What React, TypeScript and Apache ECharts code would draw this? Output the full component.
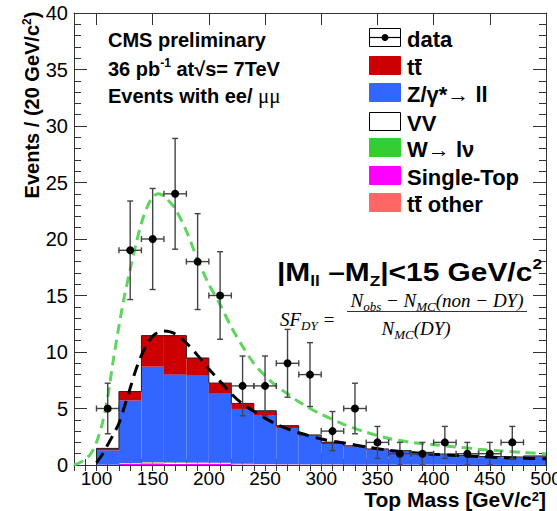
import React, { useEffect, useRef } from 'react';
import * as echarts from 'echarts';

const FONT = "'Liberation Sans', Arial, Helvetica, sans-serif";
const SERIF = "'Liberation Serif', 'Times New Roman', serif";

// histogram bins (GeV/c^2)
const binEdges = [100, 120, 140, 160, 180, 200, 220, 240, 260, 280, 300, 320, 340, 360, 380, 400, 420, 440, 460, 480, 500];
const binHalfWidth = 10;

// stacked MC contributions (events per bin)
const singleTop = [0.02, 0.12, 0.15, 0.1, 0.12, 0.12, 0.05, 0.04, 0.03, 0.02, 0.02, 0.01, 0.01, 0.01, 0.01, 0.01, 0, 0, 0, 0];
const vv = [0.01, 0.04, 0.05, 0.08, 0.05, 0.05, 0.04, 0.04, 0.03, 0.03, 0.03, 0.02, 0.02, 0.02, 0.02, 0.02, 0.01, 0.01, 0.01, 0.01];
const wjets = [0, 0, 0.03, 0.03, 0, 0, 0, 0, 0, 0, 0, 0, 0, 0, 0, 0, 0, 0, 0, 0];
const ttOther = [0, 0.02, 0.03, 0.03, 0.05, 0.02, 0.02, 0.01, 0.01, 0.01, 0.01, 0, 0, 0, 0, 0, 0, 0, 0, 0];
const dy = [1.27, 5.52, 8.44, 7.76, 7.68, 6.18, 4.85, 4.33, 3.2, 2.54, 1.8, 1.62, 1.35, 1.21, 1.07, 0.92, 0.82, 0.72, 0.67, 0.77];
const ttbar = [0.17, 0.8, 2.75, 3.45, 1.57, 0.88, 0.49, 0.38, 0.21, 0.06, 0.16, 0.05, 0.04, 0.03, 0.02, 0.02, 0.02, 0.02, 0.02, 0.02];

// data points
const dataMass = [110, 130, 150, 170, 190, 210, 230, 250, 270, 290, 310, 330, 350, 370, 390, 410, 430, 450, 470, 490];
const dataEvents = [5, 19, 20, 24, 18, 15, 7, 7, 9, 8, 3, 5, 2, 1, 1, 2, 1, 1, 2, 0];

// green dashed curve
const greenMass = [80, 85, 90, 95, 100, 105, 110, 115, 120, 125, 130, 135, 140, 145, 150, 155, 160, 165, 170, 180, 190, 200, 210, 220, 230, 240, 250, 260, 270, 280, 290, 300, 320, 340, 360, 380, 400, 420, 440, 460, 480, 500];
const greenFit = [0, 0.2, 0.5, 1.0, 2.0, 3.6, 6.0, 9.3, 12.3, 15.0, 17.3, 19.5, 21.4, 22.8, 23.7, 24.0, 23.8, 23.3, 22.7, 20.7, 18.2, 16.0, 14.2, 12.2, 10.5, 9.0, 7.9, 7.0, 6.3, 5.6, 5.0, 4.5, 3.6, 2.9, 2.35, 2.0, 1.8, 1.6, 1.4, 1.25, 1.1, 1.0];

// black dashed curve
const blackMass = [100, 105, 110, 115, 120, 125, 130, 135, 140, 145, 150, 155, 160, 165, 170, 180, 190, 200, 210, 220, 230, 240, 250, 260, 270, 280, 300, 320, 340, 360, 380, 400, 420, 440, 460, 480, 500];
const blackFit = [0.2, 0.9, 1.8, 2.7, 3.7, 5.2, 6.8, 8.4, 9.7, 10.7, 11.4, 11.75, 11.85, 11.8, 11.6, 10.8, 9.7, 8.5, 7.4, 6.3, 5.4, 4.75, 4.15, 3.6, 3.2, 2.85, 2.3, 1.95, 1.6, 1.3, 1.1, 0.95, 0.85, 0.75, 0.65, 0.6, 0.55];

const xTicks = [100, 150, 200, 250, 300, 350, 400, 450, 500];

const layers = [
  { name: 'Single-Top', values: singleTop, color: '#ff00ff' },
  { name: 'VV', values: vv, color: '#ffffff' },
  { name: 'W', values: wjets, color: '#33cc33' },
  { name: 'tt other', values: ttOther, color: '#ff6666' },
  { name: 'DY', values: dy, color: '#3366ff' },
  { name: 'ttbar', values: ttbar, color: '#cc0000' },
];

const AX = '#333';

export default function App() {
  const ref = useRef<HTMLDivElement>(null);
  useEffect(() => {
    const chart = echarts.init(ref.current!, null, { renderer: 'svg' });

    const cum = new Array(binEdges.length - 1).fill(0);
    const stackSeries = layers.map((layer) => {
      const data = layer.values.map((v, i) => {
        const base = cum[i];
        cum[i] += v;
        return [binEdges[i], binEdges[i + 1], base, cum[i]];
      });
      return {
        type: 'custom',
        name: layer.name,
        xAxisIndex: 0,
        yAxisIndex: 0,
        silent: true,
        z: 2,
        encode: { x: [0, 1], y: [2, 3] },
        data,
        renderItem: (params: any, api: any) => {
          const p1 = api.coord([api.value(0), api.value(3)]);
          const p2 = api.coord([api.value(1), api.value(2)]);
          return {
            type: 'rect',
            shape: { x: p1[0], y: p1[1], width: p2[0] - p1[0], height: p2[1] - p1[1] },
            style: { fill: layer.color },
          };
        },
      };
    });

    const outline: number[][] = [[binEdges[0], 0]];
    cum.forEach((t, i) => {
      outline.push([binEdges[i], t]);
      outline.push([binEdges[i + 1], t]);
    });
    outline.push([binEdges[binEdges.length - 1], 0]);

    const lineStyle = { color: AX, width: 1 };
    const xBase = { type: 'value', min: 80, max: 500, splitLine: { show: false } };
    const yBase = { type: 'value', min: 0, max: 40, interval: 5, splitLine: { show: false } };

    const option: any = {
      animation: false,
      grid: { left: 74, right: 11, top: 13, bottom: 46, containLabel: false, outerBoundsMode: 'none' },
      xAxis: [
        {
          ...xBase,
          position: 'bottom',
          axisLine: { show: true, onZero: false, lineStyle },
          axisTick: { show: true, inside: true, length: 12, customValues: xTicks, lineStyle },
          axisLabel: { show: true, customValues: xTicks, fontSize: 19, color: '#000', fontFamily: FONT, margin: 5, lineHeight: 16 },
        },
        {
          ...xBase,
          position: 'bottom',
          interval: 10,
          axisLine: { show: false },
          axisTick: { show: true, inside: true, length: 6, lineStyle },
          axisLabel: { show: false },
        },
        {
          ...xBase,
          position: 'top',
          axisLine: { show: true, onZero: false, lineStyle },
          axisTick: { show: true, inside: true, length: 12, customValues: xTicks, lineStyle },
          axisLabel: { show: false },
        },
        {
          ...xBase,
          position: 'top',
          interval: 10,
          axisLine: { show: false },
          axisTick: { show: true, inside: true, length: 6, lineStyle },
          axisLabel: { show: false },
        },
      ],
      yAxis: [
        {
          ...yBase,
          position: 'left',
          axisLine: { show: true, onZero: false, lineStyle },
          axisTick: { show: true, inside: true, length: 13, lineStyle },
          minorTick: { show: true, splitNumber: 5, length: 7, lineStyle },
          axisLabel: { fontSize: 20, color: '#000', fontFamily: FONT, margin: 6 },
        },
        {
          ...yBase,
          position: 'right',
          axisLine: { show: true, onZero: false, lineStyle },
          axisTick: { show: true, inside: true, length: 13, lineStyle },
          minorTick: { show: true, splitNumber: 5, length: 7, lineStyle },
          axisLabel: { show: false },
        },
      ],
      series: [
        ...stackSeries,
        {
          type: 'line',
          name: 'outline',
          data: outline,
          xAxisIndex: 0,
          yAxisIndex: 0,
          showSymbol: false,
          silent: true,
          z: 3,
          lineStyle: { color: '#222', width: 1 },
        },
        {
          type: 'line',
          name: 'green',
          data: greenMass.map((m, i) => [m, greenFit[i]]),
          smooth: 0.3,
          showSymbol: false,
          silent: true,
          z: 4,
          lineStyle: { color: '#5fd45f', width: 3, type: [10, 6] },
        },
        {
          type: 'line',
          name: 'black',
          data: blackMass.map((m, i) => [m, blackFit[i]]),
          smooth: 0.3,
          showSymbol: false,
          silent: true,
          z: 4,
          lineStyle: { color: '#000', width: 3, type: [12, 7] },
        },
        {
          type: 'custom',
          name: 'data',
          z: 5,
          silent: true,
          encode: { x: 0, y: 1 },
          data: dataMass.map((m, i) => [m, dataEvents[i]]),
          renderItem: (params: any, api: any) => {
            const x = api.value(0);
            const y = api.value(1);
            if (!(y > 0)) return null;
            const e = Math.sqrt(y);
            const c = api.coord([x, y]);
            const t = api.coord([x, y + e]);
            const b = api.coord([x, Math.max(0, y - e)]);
            const l = api.coord([x - binHalfWidth, y]);
            const r = api.coord([x + binHalfWidth, y]);
            const st = { stroke: '#444', lineWidth: 1.4 };
            const cap = 3;
            return {
              type: 'group',
              children: [
                { type: 'line', shape: { x1: c[0], y1: t[1], x2: c[0], y2: b[1] }, style: st },
                { type: 'line', shape: { x1: l[0], y1: c[1], x2: r[0], y2: c[1] }, style: st },
                { type: 'line', shape: { x1: c[0] - cap, y1: t[1], x2: c[0] + cap, y2: t[1] }, style: st },
                { type: 'line', shape: { x1: c[0] - cap, y1: b[1], x2: c[0] + cap, y2: b[1] }, style: st },
                { type: 'line', shape: { x1: l[0], y1: c[1] - cap, x2: l[0], y2: c[1] + cap }, style: st },
                { type: 'line', shape: { x1: r[0], y1: c[1] - cap, x2: r[0], y2: c[1] + cap }, style: st },
                { type: 'circle', shape: { cx: c[0], cy: c[1], r: 4 }, style: { fill: '#000' } },
              ],
            };
          },
        },
      ],
      graphic: [] as any[],
    };

    const g = option.graphic;
    const txt = (x: number, y: number, text: string, font: string, extra: any = {}, el: any = {}) => ({
      type: 'text',
      x,
      y,
      z: 100,
      ...el,
      style: {
        text,
        font,
        fill: '#000',
        align: 'left',
        verticalAlign: 'middle',
        textAlign: 'left',
        textVerticalAlign: 'middle',
        ...extra,
      },
    });

    // axis titles
    g.push(txt(32, 105, 'Events / (20 GeV/c{sup|2})', `bold 20px ${FONT}`, {
      align: 'center', textAlign: 'center', lineHeight: 22,
      rich: { sup: { fontSize: 12, fontWeight: 'bold', fontFamily: FONT, verticalAlign: 'top', lineHeight: 12 } },
    }, { rotation: Math.PI / 2 }));
    g.push(txt(546, 499, 'Top Mass [GeV/c{sup|2}]', `bold 21px ${FONT}`, {
      align: 'right', textAlign: 'right', lineHeight: 18,
      rich: { sup: { fontSize: 13, fontWeight: 'bold', fontFamily: FONT, verticalAlign: 'top', lineHeight: 10 } },
    }));

    // top-left labels
    g.push(txt(108, 40, 'CMS preliminary', `bold 20px ${FONT}`));
    g.push(txt(108, 69, '36 pb{sup|-1} at√s= 7TeV', `bold 20px ${FONT}`, {
      lineHeight: 24,
      rich: { sup: { fontSize: 12, fontWeight: 'bold', fontFamily: FONT, verticalAlign: 'top', lineHeight: 14 } },
    }));
    g.push(txt(108, 96, 'Events with ee/ {mu|μμ}', `bold 20px ${FONT}`, {
      rich: { mu: { fontSize: 21, fontWeight: 'normal', fontFamily: SERIF } },
    }));

    // legend
    const legendBoxes = [
      { y: 56, fill: '#cc0000', label: 'tt', bar: true },
      { y: 83, fill: '#3366ff', label: 'Z/γ*→ ll' },
      { y: 112, fill: '#ffffff', label: 'VV', stroke: true },
      { y: 138, fill: '#33cc33', label: 'W→ lν' },
      { y: 166, fill: '#ff00ff', label: 'Single-Top' },
      { y: 193, fill: '#ff6666', label: 'tt other', bar: true },
    ];
    g.push({ type: 'rect', z: 100, shape: { x: 369.5, y: 28.5, width: 31, height: 18 }, style: { fill: '#fff', stroke: '#000', lineWidth: 1 } });
    g.push({ type: 'line', z: 101, shape: { x1: 369.5, y1: 37.5, x2: 400.5, y2: 37.5 }, style: { stroke: '#000', lineWidth: 1.2 } });
    g.push({ type: 'circle', z: 101, shape: { cx: 385, cy: 37.5, r: 3.5 }, style: { fill: '#000' } });
    g.push(txt(407, 39, 'data', `bold 22px ${FONT}`));
    legendBoxes.forEach((b: any) => {
      g.push({
        type: 'rect', z: 100,
        shape: { x: 369.5, y: b.y + 0.5, width: 31, height: 18 },
        style: { fill: b.fill, stroke: b.stroke ? '#000' : b.fill, lineWidth: 1 },
      });
      g.push(txt(407, b.y + 11, b.label, `bold 22px ${FONT}`));
      if (b.bar) {
        g.push({ type: 'line', z: 101, shape: { x1: 415, y1: b.y + 4, x2: 422, y2: b.y + 4 }, style: { stroke: '#000', lineWidth: 2 } });
      }
    });

    // cut annotation
    g.push(txt(277, 272, '{b||M}{s|ll}{b| –M}{s|Z}{b||<15 GeV/c}{p|2}', `bold 26px ${FONT}`, {
      lineHeight: 32,
      rich: {
        b: { fontSize: 26, fontWeight: 'bold', fontFamily: FONT, lineHeight: 32 },
        s: { fontSize: 15, fontWeight: 'bold', fontFamily: FONT, verticalAlign: 'bottom', lineHeight: 14 },
        p: { fontSize: 15, fontWeight: 'bold', fontFamily: FONT, verticalAlign: 'top', lineHeight: 16 },
      },
    }, { scaleX: 1.15 }));

    // SF formula
    const serifRich = {
      m: { fontSize: 19, fontStyle: 'italic', fontFamily: SERIF, lineHeight: 26 },
      s: { fontSize: 13, fontStyle: 'italic', fontFamily: SERIF, verticalAlign: 'bottom', lineHeight: 12 },
    };
    g.push(txt(280, 319, '{m|SF}{s|DY}{m| =}', `italic 19px ${SERIF}`, { lineHeight: 26, rich: serifRich }));
    g.push(txt(437, 300, '{m|N}{s|obs}{m| − N}{s|MC}{m|(non − DY)}', `italic 19px ${SERIF}`, {
      align: 'center', textAlign: 'center', lineHeight: 26, rich: serifRich,
    }));
    g.push({ type: 'line', z: 100, shape: { x1: 347, y1: 311.5, x2: 527, y2: 311.5 }, style: { stroke: '#333', lineWidth: 1 } });
    g.push(txt(416, 328, '{m|N}{s|MC}{m|(DY)}', `italic 19px ${SERIF}`, {
      align: 'center', textAlign: 'center', lineHeight: 26, rich: serifRich,
    }));

    chart.setOption(option);
    return () => chart.dispose();
  }, []);
  return <div ref={ref} style={{ position: 'absolute', left: 0, top: 0, width: 557, height: 511 }} />;
}
